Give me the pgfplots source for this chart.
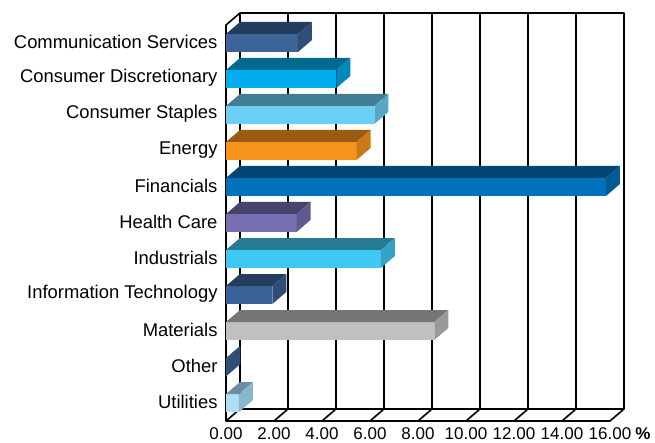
\documentclass[border=0pt]{standalone}
\usepackage{pgfplots}
\usepackage{pgfplotstable}
\pgfplotsset{compat=1.18}
\usepackage{fontspec}
\setmainfont{Liberation Sans}

\definecolor{f1}{HTML}{3D6499}\definecolor{t1}{HTML}{233D5E}\definecolor{s1}{HTML}{2F4E78}
\definecolor{f2}{HTML}{00AEEF}\definecolor{t2}{HTML}{00698F}\definecolor{s2}{HTML}{0088BB}
\definecolor{f3}{HTML}{6DCEF5}\definecolor{t3}{HTML}{427F96}\definecolor{s3}{HTML}{57A7C7}
\definecolor{f4}{HTML}{F7941E}\definecolor{t4}{HTML}{9A5A12}\definecolor{s4}{HTML}{C97A18}
\definecolor{f5}{HTML}{0072BC}\definecolor{t5}{HTML}{004672}\definecolor{s5}{HTML}{005A93}
\definecolor{f6}{HTML}{7670B3}\definecolor{t6}{HTML}{47436B}\definecolor{s6}{HTML}{5E5A8D}
\definecolor{f7}{HTML}{40C8F4}\definecolor{t7}{HTML}{277A93}\definecolor{s7}{HTML}{34A2C4}
\definecolor{f8}{HTML}{3A6299}\definecolor{t8}{HTML}{243D5E}\definecolor{s8}{HTML}{2E4D78}
\definecolor{f9}{HTML}{C0C0C0}\definecolor{t9}{HTML}{757575}\definecolor{s9}{HTML}{999999}
\definecolor{f10}{HTML}{3A6299}\definecolor{t10}{HTML}{243D5E}\definecolor{s10}{HTML}{2F4E78}
\definecolor{f11}{HTML}{ADDFF7}\definecolor{t11}{HTML}{6C8EA0}\definecolor{s11}{HTML}{87B8CC}

% template shapes for the 3D faces
\pgfplotstableread{
a b
0 0
1 0
1 1
0 1
}\topface
\pgfplotstableread{
p q
0 -1
1 -1
1 1
0 1
}\sideface

% #1 index, #2 value, #3 front, #4 top, #5 side
\newcommand{\tdbar}[5]{%
  \addplot[xbar, bar width=0.5, bar shift=0pt, fill=#3, draw=none] coordinates {(#2,#1)};
  \addplot[fill=#4, draw=none] table[x expr={\thisrow{a}*#2+\thisrow{b}*0.5833}, y expr={#1-0.25-\thisrow{b}*0.3333}] \topface;
  \addplot[fill=#5, draw=none] table[x expr={#2+\thisrow{p}*0.5833}, y expr={#1+\thisrow{q}*0.25-\thisrow{p}*0.3333}] \sideface;
}

\begin{document}
\begin{tikzpicture}
\begin{axis}[
  scale only axis,
  width=384pt, height=396pt,
  xmin=0, xmax=16, ymin=-0.5, ymax=10.5,
  y dir=reverse,
  clip=false,
  axis line style={draw=none},
  tick style={draw=none},
  xtick={0,2,...,16},
  xticklabels={0.00,2.00,4.00,6.00,8.00,10.00,12.00,14.00,16.00},
  xticklabel style={font=\fontsize{17}{20}\selectfont, anchor=base, yshift=-18.5pt},
  ytick={0,...,10},
  yticklabels={Communication Services,Consumer Discretionary,Consumer Staples,Energy,Financials,Health Care,Industrials,Information Technology,Materials,Other,Utilities},
  yticklabel style={font=\fontsize{18.4}{20}\selectfont, anchor=east, xshift=-5pt, yshift=1pt},
]
% walls
\draw[line width=1.6pt, line join=round]
  (axis cs:0,10.5) -- (axis cs:0,-0.5) -- (axis cs:0.5833,-0.8333) -- (axis cs:16.5833,-0.8333) -- (axis cs:16.5833,10.1667) -- (axis cs:16,10.5) -- cycle;
\draw[line width=1.6pt] (axis cs:0.5833,-0.8333) -- (axis cs:0.5833,10.1667) -- (axis cs:16.5833,10.1667);
\draw[line width=1.6pt] (axis cs:0,10.5) -- (axis cs:0.5833,10.1667);
\pgfplotsinvokeforeach{2,4,6,8,10,12,14}{
  \draw[line width=1.6pt] (axis cs:#1.5833,-0.8333) -- (axis cs:#1.5833,10.1667);
  \draw[line width=1.6pt] (axis cs:#1,10.5) -- (axis cs:#1.5833,10.1667);
}
% bars
\tdbar{0}{3.0}{f1}{t1}{s1}
\tdbar{1}{4.6}{f2}{t2}{s2}
\tdbar{2}{6.18}{f3}{t3}{s3}
\tdbar{3}{5.44}{f4}{t4}{s4}
\tdbar{4}{15.83}{f5}{t5}{s5}
\tdbar{5}{2.94}{f6}{t6}{s6}
\tdbar{6}{6.45}{f7}{t7}{s7}
\tdbar{7}{1.93}{f8}{t8}{s8}
\tdbar{8}{8.68}{f9}{t9}{s9}
\tdbar{9}{0.02}{f10}{t10}{s10}
\tdbar{10}{0.54}{f11}{t11}{s11}
\end{axis}
\node[font=\fontsize{17}{20}\selectfont\bfseries] at (417pt,-13pt) {\%};
\pgfresetboundingbox
\path[use as bounding box] (-226pt,-22pt) rectangle (429pt,421pt);
\end{tikzpicture}
\end{document}
